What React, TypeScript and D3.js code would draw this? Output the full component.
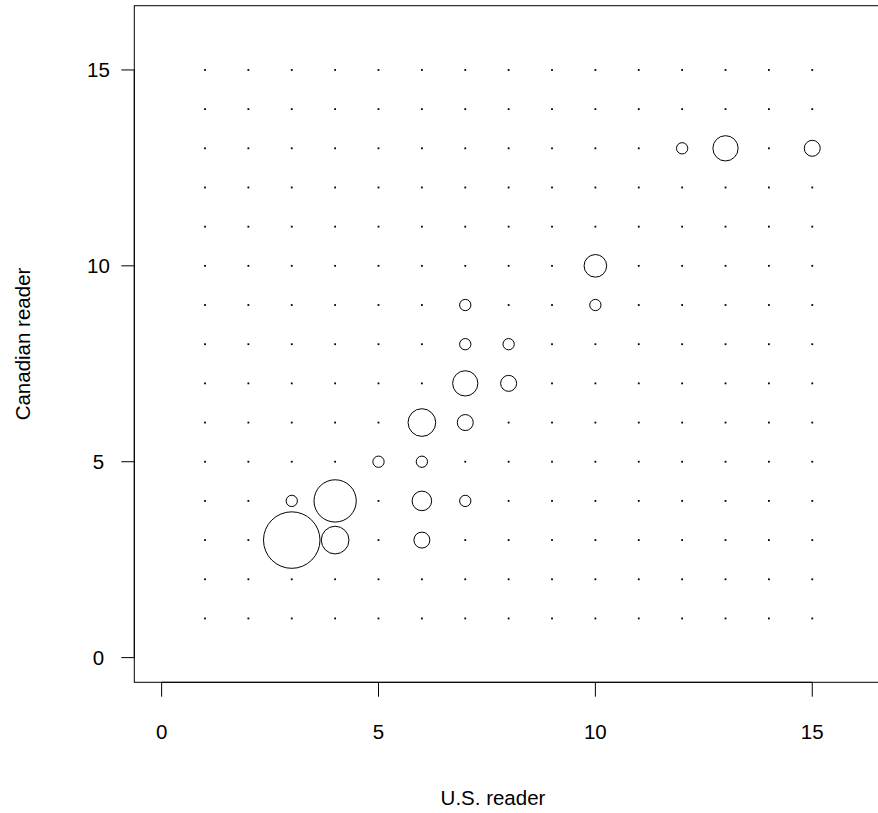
import React from "react";
import * as d3 from "d3";

// Data: counts of (U.S. reader, Canadian reader) pairs
const usReader = [3, 4, 4, 3, 6, 6, 7, 5, 6, 6, 7, 7, 8, 7, 8, 7, 10, 10, 12, 13, 15];
const canReader = [3, 4, 3, 4, 4, 3, 4, 5, 5, 6, 6, 7, 7, 8, 8, 9, 9, 10, 13, 13, 13];
const counts = [25, 14, 6, 1, 3, 2, 1, 1, 1, 6, 2, 5, 2, 1, 1, 1, 1, 4, 1, 5, 2];

const gridValues = d3.range(1, 16);
const xTicks = [0, 5, 10, 15];
const yTicks = [0, 5, 10, 15];

const W = 878;
const H = 813;
const FONT = "Liberation Sans, Arial, Helvetica, sans-serif";
const FS = 20.5;

export default function App() {
  const x = d3.scaleLinear().domain([-0.63, 16.64]).range([134.3, 883.4]);
  const y = d3.scaleLinear().domain([-0.63, 16.64]).range([682.3, 5.7]);
  const r = d3.scaleSqrt().domain([0, 1]).range([0, 5.65]);

  const occupied = new Set(usReader.map((u, i) => `${u},${canReader[i]}`));
  const dots: [number, number][] = [];
  gridValues.forEach((gx) =>
    gridValues.forEach((gy) => {
      if (!occupied.has(`${gx},${gy}`)) dots.push([gx, gy]);
    })
  );

  const x0 = x(xTicks[0]);
  const x1 = x(xTicks[xTicks.length - 1]);
  const yB = y(-0.63);
  const yT = y(16.64);
  const xL = x(-0.63);

  return (
    <svg
      width={W}
      height={H}
      style={{ position: "absolute", left: 0, top: 0, background: "#fff" }}
      fontFamily={FONT}
    >
      <rect x={0} y={0} width={W} height={H} fill="#fff" />
      {dots.map(([gx, gy]) => (
        <rect
          key={`d${gx}-${gy}`}
          x={x(gx) - 0.9}
          y={y(gy) - 0.9}
          width={1.8}
          height={1.8}
          fill="#000"
        />
      ))}
      {counts.map((c, i) => (
        <circle
          key={`c${i}`}
          cx={x(usReader[i])}
          cy={y(canReader[i])}
          r={r(c)}
          fill="none"
          stroke="#000"
          strokeWidth={1}
        />
      ))}
      <rect x={xL} y={yT} width={x(16.64) - xL} height={yB - yT} fill="none" stroke="#000" strokeWidth={1} />
      <line x1={x0} x2={x1} y1={yB} y2={yB} stroke="#000" />
      {xTicks.map((t) => (
        <g key={`xt${t}`}>
          <line x1={x(t)} x2={x(t)} y1={yB} y2={yB + 14.4} stroke="#000" />
          <text x={x(t)} y={731} textAnchor="middle" dominantBaseline="central" fontSize={FS}>
            {t}
          </text>
        </g>
      ))}
      <line x1={xL} x2={xL} y1={y(yTicks[0])} y2={y(yTicks[yTicks.length - 1])} stroke="#000" />
      {yTicks.map((t) => (
        <g key={`yt${t}`}>
          <line x1={xL} x2={xL - 13} y1={y(t)} y2={y(t)} stroke="#000" />
          <text x={98.5} y={y(t)} textAnchor="middle" dominantBaseline="central" fontSize={FS}>
            {t}
          </text>
        </g>
      ))}
      <text x={493} y={797} textAnchor="middle" dominantBaseline="central" fontSize={FS}>
        U.S. reader
      </text>
      <text
        transform={`translate(22,${(yT + yB) / 2}) rotate(-90)`}
        textAnchor="middle"
        dominantBaseline="central"
        fontSize={FS}
      >
        Canadian reader
      </text>
    </svg>
  );
}
